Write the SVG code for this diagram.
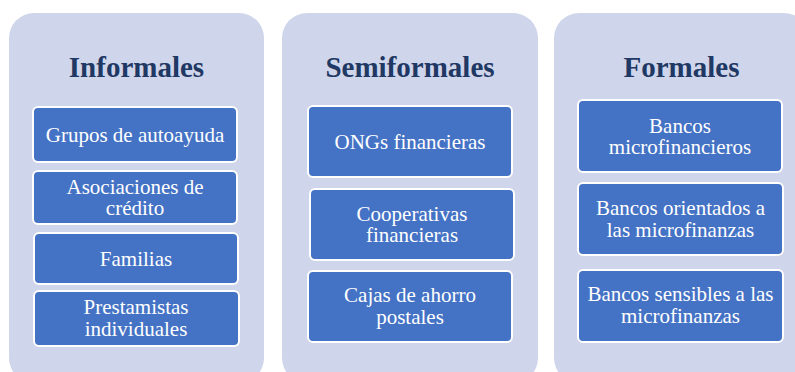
<svg xmlns="http://www.w3.org/2000/svg" width="795" height="372" viewBox="0 0 795 372">
<style>
.panel{fill:#CFD5EA;}
.box{fill:#4472C4;stroke:#FFFFFF;stroke-width:2;}
.title{font-family:"Liberation Serif",serif;font-weight:bold;font-size:29px;fill:#1F3864;text-anchor:middle;}
.lbl{font-family:"Liberation Serif",serif;font-size:21px;fill:#FFFFFF;text-anchor:middle;}
</style>
<rect width="795" height="372" fill="#FFFFFF"/>
<g id="panel-informales">
<rect class="panel" x="9" y="13" width="255" height="370" rx="25"/>
<text class="title" x="136.5" y="77">Informales</text>
</g>
<g id="panel-semiformales">
<rect class="panel" x="282" y="13" width="256" height="370" rx="25"/>
<text class="title" x="410" y="77">Semiformales</text>
</g>
<g id="panel-formales">
<rect class="panel" x="554" y="13" width="255" height="370" rx="25"/>
<text class="title" x="681.5" y="77">Formales</text>
</g>
<g id="n-grupos"><rect class="box" x="33" y="107" width="204" height="55" rx="5"/><text class="lbl" x="135" y="141.5">Grupos de autoayuda</text></g>
<g id="n-asociaciones"><rect class="box" x="33" y="171" width="204" height="53" rx="5"/><text class="lbl" x="135" y="193.5">Asociaciones de</text><text class="lbl" x="135" y="215">crédito</text></g>
<g id="n-familias"><rect class="box" x="34" y="233" width="204" height="51" rx="5"/><text class="lbl" x="136" y="265.5">Familias</text></g>
<g id="n-prestamistas"><rect class="box" x="34" y="291" width="205" height="55" rx="5"/><text class="lbl" x="136" y="314">Prestamistas</text><text class="lbl" x="136" y="336">individuales</text></g>
<g id="n-ongs"><rect class="box" x="308" y="106" width="204" height="71" rx="5"/><text class="lbl" x="410" y="148.5">ONGs financieras</text></g>
<g id="n-cooperativas"><rect class="box" x="310" y="189" width="204" height="71" rx="5"/><text class="lbl" x="412" y="220.5">Cooperativas</text><text class="lbl" x="412" y="241.5">financieras</text></g>
<g id="n-cajas"><rect class="box" x="308" y="271" width="204" height="71" rx="5"/><text class="lbl" x="410" y="302">Cajas de ahorro</text><text class="lbl" x="410" y="323.5">postales</text></g>
<g id="n-bancos-micro"><rect class="box" x="578" y="100" width="204" height="72" rx="5"/><text class="lbl" x="680" y="132.5">Bancos</text><text class="lbl" x="680" y="153.5">microfinancieros</text></g>
<g id="n-bancos-orientados"><rect class="box" x="578" y="183" width="205" height="72" rx="5"/><text class="lbl" x="680.5" y="215">Bancos orientados a</text><text class="lbl" x="680.5" y="236.5">las microfinanzas</text></g>
<g id="n-bancos-sensibles"><rect class="box" x="578" y="270" width="205" height="72" rx="5"/><text class="lbl" x="680.5" y="301">Bancos sensibles a las</text><text class="lbl" x="680.5" y="322.5">microfinanzas</text></g>
<g id="connectors"></g>
</svg>
